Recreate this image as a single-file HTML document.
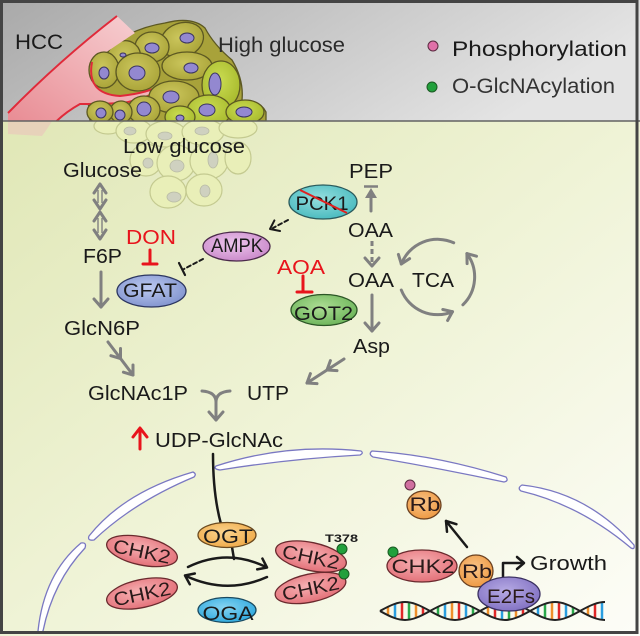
<!DOCTYPE html>
<html><head><meta charset="utf-8"><style>html,body{margin:0;padding:0;background:#fff}svg{display:block}svg text{font-family:"Liberation Sans",Arial,sans-serif}</style></head><body>
<svg width="640" height="636" viewBox="0 0 640 636" xmlns="http://www.w3.org/2000/svg" style="font-family:'Liberation Sans',Arial,sans-serif">
<defs>
<linearGradient id="gTop" x1="0" y1="0" x2="1" y2="0.3"><stop offset="0" stop-color="#a9a9a9"/><stop offset="1" stop-color="#e4e4e4"/></linearGradient>
<linearGradient id="gBot" x1="0" y1="0" x2="1" y2="1"><stop offset="0" stop-color="#e0e7b6"/><stop offset="0.5" stop-color="#eff3d6"/><stop offset="1" stop-color="#fdfdf8"/></linearGradient>
<linearGradient id="gVes" x1="1" y1="0" x2="0" y2="1"><stop offset="0" stop-color="#f8d6d8"/><stop offset="1" stop-color="#e88a92"/></linearGradient>
<radialGradient id="gCell" cx="45%" cy="40%" r="60%"><stop offset="0" stop-color="#cbc65c"/><stop offset="1" stop-color="#aba53a"/></radialGradient>
<radialGradient id="gCellG" cx="45%" cy="40%" r="60%"><stop offset="0" stop-color="#cadc52"/><stop offset="1" stop-color="#a9bb2e"/></radialGradient>
<radialGradient id="gPCK" cx="45%" cy="40%" r="60%"><stop offset="0" stop-color="#94dede"/><stop offset="1" stop-color="#4cbcc0"/></radialGradient>
<radialGradient id="gAMPK" cx="45%" cy="40%" r="60%"><stop offset="0" stop-color="#ecc6ec"/><stop offset="1" stop-color="#cc8ccc"/></radialGradient>
<radialGradient id="gGFAT" cx="45%" cy="40%" r="60%"><stop offset="0" stop-color="#bccaf0"/><stop offset="1" stop-color="#8496d0"/></radialGradient>
<radialGradient id="gGOT" cx="45%" cy="40%" r="60%"><stop offset="0" stop-color="#addd94"/><stop offset="1" stop-color="#6fb65c"/></radialGradient>
<radialGradient id="gOGT" cx="45%" cy="40%" r="60%"><stop offset="0" stop-color="#fbd48e"/><stop offset="1" stop-color="#f0ac4c"/></radialGradient>
<radialGradient id="gOGA" cx="45%" cy="40%" r="60%"><stop offset="0" stop-color="#86d4f2"/><stop offset="1" stop-color="#32aade"/></radialGradient>
<radialGradient id="gCHK" cx="45%" cy="40%" r="60%"><stop offset="0" stop-color="#f6b0b2"/><stop offset="1" stop-color="#e4727a"/></radialGradient>
<radialGradient id="gRb" cx="45%" cy="40%" r="60%"><stop offset="0" stop-color="#f9c488"/><stop offset="1" stop-color="#ee9a44"/></radialGradient>
<radialGradient id="gE2F" cx="45%" cy="40%" r="60%"><stop offset="0" stop-color="#b6aae4"/><stop offset="1" stop-color="#8474c4"/></radialGradient>
<clipPath id="cTop"><rect x="0" y="0" width="640" height="121"/></clipPath>
<clipPath id="cDNA"><rect x="378" y="590" width="227" height="40"/></clipPath>
</defs>

<rect x="0" y="0" width="640" height="121" fill="url(#gTop)"/>
<rect x="0" y="121" width="640" height="515" fill="url(#gBot)"/>

<path d="M8,121 L52,121 Q48,128 42,136 L8,134 Z" fill="#f0b8bc" opacity="0.45"/>

<g fill="#e9efb8" stroke="#c4ca90" stroke-width="1.2">
<ellipse cx="108" cy="126" rx="14" ry="8"/>
<ellipse cx="134" cy="131" rx="18" ry="12"/>
<ellipse cx="166" cy="134" rx="20" ry="13"/>
<ellipse cx="203" cy="132" rx="21" ry="13"/>
<ellipse cx="238" cy="128" rx="19" ry="10"/>
<ellipse cx="146" cy="160" rx="16" ry="16"/>
<ellipse cx="176" cy="163" rx="19" ry="18"/>
<ellipse cx="209" cy="161" rx="19" ry="18"/>
<ellipse cx="238" cy="158" rx="13" ry="16"/>
<ellipse cx="168" cy="192" rx="18" ry="16"/>
<ellipse cx="204" cy="190" rx="18" ry="16"/>
</g>
<g fill="#cfd1c0" stroke="#b8bba4" stroke-width="0.8">
<ellipse cx="130" cy="131" rx="6" ry="4"/>
<ellipse cx="165" cy="136" rx="7" ry="4"/>
<ellipse cx="202" cy="131" rx="7" ry="4"/>
<ellipse cx="177" cy="166" rx="7" ry="6"/>
<ellipse cx="213" cy="160" rx="5" ry="8"/>
<ellipse cx="174" cy="197" rx="7" ry="5"/>
<ellipse cx="205" cy="191" rx="5" ry="6"/>
<ellipse cx="148" cy="163" rx="5" ry="5"/>
</g>

<g clip-path="url(#cTop)">
<path d="M90,121 L88,100 Q86,80 92,62 Q105,45 125,36 Q145,26 165,23 Q192,16 205,28 Q214,45 232,60 Q244,80 242,100 Q260,100 266,112 L266,121 Z" fill="#a8a23a" stroke="#5c5822" stroke-width="1.3"/>
<g stroke="#5c5822" stroke-width="1.3">
<ellipse cx="182" cy="40" rx="22" ry="17" fill="url(#gCell)" transform="rotate(-20 182 40)"/>
<ellipse cx="152" cy="47" rx="17" ry="15" fill="url(#gCell)"/>
<ellipse cx="187" cy="66" rx="25" ry="14" fill="url(#gCell)"/>
<ellipse cx="123" cy="60" rx="17" ry="20" fill="url(#gCell)" transform="rotate(30 123 60)"/>
</g>
<path d="M117,16 L135,33 Q112,48 92,62 Q86,94 120,96 Q150,93 168,82 Q150,97 123,103 Q96,104 80,104 Q62,114 50,128 L8,128 L8,113 Q60,60 117,16 Z" fill="url(#gVes)"/>
<path d="M117,16 Q60,60 8,113" fill="none" stroke="#e02a3a" stroke-width="2"/>
<path d="M168,86 Q150,98 123,103 Q96,104 80,104 Q62,114 50,128" fill="none" stroke="#e02a3a" stroke-width="2"/>
<g stroke="#5c5822" stroke-width="1.3">
<ellipse cx="104" cy="70" rx="15" ry="18" fill="url(#gCell)"/>
<ellipse cx="138" cy="72" rx="22" ry="19" fill="url(#gCell)"/>
</g>
<path d="M92,62 Q86,94 120,96 Q150,93 168,82" fill="none" stroke="#e02a3a" stroke-width="2"/>
<g stroke="#5c5822" stroke-width="1.3">
<ellipse cx="221" cy="85" rx="19" ry="24" fill="url(#gCellG)"/>
<ellipse cx="174" cy="97" rx="25" ry="16" fill="url(#gCell)"/>
<ellipse cx="144" cy="110" rx="16" ry="14" fill="url(#gCell)"/>
<ellipse cx="121" cy="112" rx="11" ry="11" fill="url(#gCell)"/>
<ellipse cx="100" cy="112" rx="13" ry="11" fill="url(#gCell)"/>
<ellipse cx="209" cy="111" rx="22" ry="16" fill="url(#gCellG)"/>
<ellipse cx="180" cy="117" rx="15" ry="11" fill="url(#gCellG)"/>
<ellipse cx="245" cy="112" rx="19" ry="12" fill="url(#gCellG)"/>
</g>
<g fill="#9388d0" stroke="#3a3460" stroke-width="1">
<ellipse cx="187" cy="38" rx="7" ry="5"/>
<ellipse cx="152" cy="48" rx="7" ry="5"/>
<ellipse cx="191" cy="68" rx="7" ry="5"/>
<ellipse cx="123" cy="55" rx="3" ry="2"/>
<ellipse cx="104" cy="73" rx="5" ry="6"/>
<ellipse cx="137" cy="73" rx="8" ry="7"/>
<ellipse cx="215" cy="84" rx="6" ry="11"/>
<ellipse cx="171" cy="97" rx="8" ry="6"/>
<ellipse cx="144" cy="109" rx="7" ry="7"/>
<ellipse cx="120" cy="115" rx="5" ry="5"/>
<ellipse cx="101" cy="113" rx="5" ry="5"/>
<ellipse cx="207" cy="110" rx="8" ry="6"/>
<ellipse cx="180" cy="118" rx="4" ry="3"/>
<ellipse cx="244" cy="112" rx="8" ry="5"/>
</g>
</g>
<line x1="0" y1="121" x2="640" y2="121" stroke="#626262" stroke-width="1.5"/>

<g fill="#1a1a1a" font-size="21">
<text x="15" y="49" textLength="48" lengthAdjust="spacingAndGlyphs">HCC</text>
<text x="218" y="52" textLength="127" lengthAdjust="spacingAndGlyphs" fill="#2a2a2a">High glucose</text>
<text x="452" y="56" textLength="175" lengthAdjust="spacingAndGlyphs">Phosphorylation</text>
<text x="452" y="93" textLength="163" lengthAdjust="spacingAndGlyphs" fill="#333">O-GlcNAcylation</text>
</g>
<circle cx="433" cy="46" r="5" fill="#e070a8" stroke="#5a2a40" stroke-width="1"/>
<circle cx="432" cy="87" r="5" fill="#22a03c" stroke="#1a5a22" stroke-width="1"/>

<g fill="#1a1a1a" font-size="20">
<text x="123" y="153" textLength="122" lengthAdjust="spacingAndGlyphs">Low glucose</text>
<text x="63" y="177" textLength="79" lengthAdjust="spacingAndGlyphs">Glucose</text>
<text x="349" y="178" textLength="44" lengthAdjust="spacingAndGlyphs">PEP</text>
<text x="348" y="237" textLength="45" lengthAdjust="spacingAndGlyphs">OAA</text>
<text x="83" y="263" textLength="39" lengthAdjust="spacingAndGlyphs">F6P</text>
<text x="348" y="287" textLength="46" lengthAdjust="spacingAndGlyphs">OAA</text>
<text x="412" y="287" textLength="42" lengthAdjust="spacingAndGlyphs">TCA</text>
<text x="64" y="335" textLength="76" lengthAdjust="spacingAndGlyphs">GlcN6P</text>
<text x="353" y="353" textLength="37" lengthAdjust="spacingAndGlyphs">Asp</text>
<text x="88" y="400" textLength="100" lengthAdjust="spacingAndGlyphs">GlcNAc1P</text>
<text x="247" y="400" textLength="42" lengthAdjust="spacingAndGlyphs">UTP</text>
<text x="155" y="447" textLength="128" lengthAdjust="spacingAndGlyphs">UDP-GlcNAc</text>
<text x="530" y="570" textLength="77" lengthAdjust="spacingAndGlyphs">Growth</text>
</g>
<g fill="#e8141c" font-size="20">
<text x="126" y="244" textLength="50" lengthAdjust="spacingAndGlyphs">DON</text>
<text x="277" y="274" textLength="48" lengthAdjust="spacingAndGlyphs">AOA</text>
</g>

<g stroke="#808080" stroke-width="3" fill="none" stroke-linecap="round" stroke-linejoin="round">
<polyline points="94,193 100,184 106,193"/><polyline points="94,200 100,209 106,200"/>
<polyline points="94,221 100,212 106,221"/><polyline points="94,230 100,239 106,230"/>
<line x1="101" y1="272" x2="101" y2="307"/><polyline points="94,299 101,307 108,299"/>
<line x1="108" y1="342" x2="133" y2="375"/>
<polyline points="110.9,355.7 120.5,358.5 120.5,348.5"/>
<polyline points="123.4,372.2 133,375 133,365"/>
<line x1="344" y1="359" x2="307" y2="383"/>
<polyline points="337,370.6 327,370 330.4,360.6"/>
<polyline points="317,383.6 307,383 310.4,373.6"/>
<path d="M202,391 Q216,392 216,402 M230,391 Q216,392 216,402 L216,420"/>
<polyline points="209,412 216,420 223,412"/>
<line x1="371" y1="197" x2="371" y2="211"/>
<line x1="372" y1="241" x2="372" y2="263" stroke-dasharray="5,3" stroke-linecap="butt"/>
<polyline points="365,258 372,266 379,258"/>
<line x1="372" y1="295" x2="372" y2="331"/><polyline points="365,323 372,331 379,323"/>
<path d="M453.7,242.8 A39,39 0 0 0 401.3,264"/>
<polyline points="409.6,258.6 401.3,264 398.4,254.4"/>
<path d="M462.9,304.8 A39,39 0 0 0 466.9,253.6"/>
<polyline points="476.5,256.2 466.9,253.6 467.1,263.6"/>
<path d="M401.3,290 A39,39 0 0 0 452.5,311.7"/>
<polyline points="447.6,320.5 452.5,311.7 442.8,309.5"/>
</g>
<g stroke="#808080" stroke-width="1.4">
<line x1="98" y1="190" x2="98" y2="203"/><line x1="102" y1="190" x2="102" y2="203"/>
<line x1="98" y1="218" x2="98" y2="233"/><line x1="102" y1="218" x2="102" y2="233"/>
</g>
<polygon points="371,188 365,198 377,198" fill="#808080"/>
<line x1="364" y1="186.5" x2="378" y2="186.5" stroke="#808080" stroke-width="2.5"/>

<g stroke="#e8141c" stroke-width="3" fill="none" stroke-linecap="round">
<line x1="150" y1="250" x2="150" y2="264"/><line x1="143" y1="264" x2="157" y2="264"/>
<line x1="303" y1="276" x2="303" y2="292"/><line x1="297" y1="292" x2="312" y2="292"/>
<line x1="140" y1="449" x2="140" y2="429"/><polyline points="133,437 140,428 147,437" stroke-linejoin="round"/>
</g>

<g stroke="#1a1a1a" stroke-width="2" fill="none" stroke-linecap="round">
<line x1="288" y1="220" x2="273" y2="228" stroke-dasharray="4,3"/>
<polyline points="274.4,220.4 270,229 280,231" stroke-linejoin="round"/>
<line x1="203" y1="259" x2="184" y2="269" stroke-dasharray="4,3"/>
<line x1="179" y1="263" x2="185" y2="275" stroke-width="2.2"/>
</g>

<g stroke-width="1.3">
<ellipse cx="323" cy="202" rx="34" ry="17" fill="url(#gPCK)" stroke="#2a5a5c"/>
<ellipse cx="236.5" cy="246.5" rx="33.5" ry="14.5" fill="url(#gAMPK)" stroke="#4a2a4a"/>
<ellipse cx="151.5" cy="291" rx="34.5" ry="16" fill="url(#gGFAT)" stroke="#2c3660"/>
<ellipse cx="324" cy="310" rx="33" ry="15.5" fill="url(#gGOT)" stroke="#2c5626"/>
</g>
<g fill="#1a1a1a" font-size="19" text-anchor="middle">
<text x="322" y="210" textLength="53" lengthAdjust="spacingAndGlyphs">PCK1</text>
<text x="237" y="252" textLength="52" lengthAdjust="spacingAndGlyphs">AMPK</text>
<text x="150" y="297" textLength="54" lengthAdjust="spacingAndGlyphs">GFAT</text>
<text x="323.5" y="320" textLength="59" lengthAdjust="spacingAndGlyphs">GOT2</text>
</g>
<line x1="300" y1="190" x2="347" y2="213" stroke="#e02020" stroke-width="2"/>

<g fill="#ffffff" stroke="#7a78c2" stroke-width="1.3" stroke-linejoin="round">
<path d="M216,466 Q286,443 361,451 Q364,453 360,455 Q288,459 220,470 Q213,469 216,466 Z"/>
<path d="M372,451 Q436,455 506,477 Q509,481 504,482 Q438,468 373,457 Q368,454 372,451 Z"/>
<path d="M522,485 Q587,492 634,545 Q635,550 631,548 Q580,505 521,491 Q517,488 522,485 Z"/>
<path d="M89,536 Q124,492 193,472 Q197,474 194,477 Q134,502 94,540 Q87,541 89,536 Z"/>
<path d="M81,543 Q44,574 38,631 Q40,634 43,631 Q53,582 85,548 Q87,542 81,543 Z"/>
</g>

<g stroke="#1a1a1a" stroke-width="2.5" fill="none" stroke-linecap="round" stroke-linejoin="round">
<path d="M213,454 Q213,495 221,524"/>
<line x1="232" y1="547" x2="234" y2="559"/>
<path d="M188,567 Q227,548 266,567"/>
<polyline points="257.2,569.4 267,567.5 262.4,558.6"/>
<path d="M267,577 Q227,595 186,576"/>
<polyline points="194.8,573.5 185,575.5 189.8,584.3"/>
</g>
<ellipse cx="227" cy="535" rx="29" ry="12.5" fill="url(#gOGT)" stroke="#6a4a20" stroke-width="1.3"/>
<ellipse cx="227" cy="610" rx="29" ry="12.5" fill="url(#gOGA)" stroke="#1a4a60" stroke-width="1.3"/>
<g fill="#1a1a1a" font-size="19" text-anchor="middle">
<text x="228" y="543" textLength="50" lengthAdjust="spacingAndGlyphs">OGT</text>
<text x="228" y="620" textLength="51" lengthAdjust="spacingAndGlyphs">OGA</text>
</g>

<g stroke="#6a2a2e" stroke-width="1.3" fill="url(#gCHK)">
<ellipse cx="142" cy="551" rx="36" ry="14" transform="rotate(12 142 551)"/>
<ellipse cx="142" cy="593.5" rx="36" ry="14" transform="rotate(-12 142 593.5)"/>
<ellipse cx="311" cy="556.5" rx="36" ry="14" transform="rotate(12 311 556.5)"/>
<ellipse cx="310.5" cy="588" rx="36" ry="14" transform="rotate(-12 310.5 588)"/>
</g>
<g fill="#2a1a1a" font-size="19" text-anchor="middle">
<text x="142" y="558" textLength="58" lengthAdjust="spacingAndGlyphs" transform="rotate(12 142 551)">CHK2</text>
<text x="142" y="600.5" textLength="58" lengthAdjust="spacingAndGlyphs" transform="rotate(-12 142 593.5)">CHK2</text>
<text x="311" y="563.5" textLength="58" lengthAdjust="spacingAndGlyphs" transform="rotate(12 311 556.5)">CHK2</text>
<text x="310.5" y="595" textLength="58" lengthAdjust="spacingAndGlyphs" transform="rotate(-12 310.5 588)">CHK2</text>
</g>
<circle cx="342" cy="549" r="5" fill="#22a03c" stroke="#1a5a22" stroke-width="1"/>
<circle cx="344" cy="574" r="5" fill="#22a03c" stroke="#1a5a22" stroke-width="1"/>
<text x="325" y="542" font-size="11" font-weight="bold" fill="#1a1a1a" textLength="33" lengthAdjust="spacingAndGlyphs">T378</text>

<g stroke="#1a1a1a" stroke-width="2.5" fill="none" stroke-linecap="round" stroke-linejoin="round">
<line x1="467" y1="547" x2="446" y2="521"/>
<polyline points="456.4,524.2 446,521 447,531.8"/>
<path d="M503,577 L503,563 L523,563"/>
<polyline points="517,557 524,563 517,569"/>
</g>
<ellipse cx="424" cy="505" rx="17" ry="14" fill="url(#gRb)" stroke="#6a4020" stroke-width="1.3"/>
<circle cx="410" cy="485" r="5" fill="#d070a0" stroke="#5a2a40" stroke-width="1"/>
<ellipse cx="422" cy="566" rx="35" ry="16" fill="url(#gCHK)" stroke="#6a2a2e" stroke-width="1.3"/>
<circle cx="393" cy="552" r="5" fill="#22a03c" stroke="#1a5a22" stroke-width="1"/>

<g clip-path="url(#cDNA)">
<g stroke-width="2.5">
<line x1="388" y1="606.7" x2="388" y2="615.3" stroke="#f0902a"/>
<line x1="395" y1="603.7" x2="395" y2="618.3" stroke="#2a9ee0"/>
<line x1="402" y1="602.2" x2="402" y2="619.8" stroke="#e02828"/>
<line x1="409" y1="602.3" x2="409" y2="619.7" stroke="#2aa84a"/>
<line x1="416" y1="604.1" x2="416" y2="617.9" stroke="#f0902a"/>
<line x1="423" y1="607.2" x2="423" y2="614.8" stroke="#e02828"/>
<line x1="438" y1="606.7" x2="438" y2="615.3" stroke="#2aa84a"/>
<line x1="445" y1="603.7" x2="445" y2="618.3" stroke="#2a9ee0"/>
<line x1="452" y1="602.2" x2="452" y2="619.8" stroke="#f0902a"/>
<line x1="459" y1="602.3" x2="459" y2="619.7" stroke="#e02828"/>
<line x1="466" y1="604.1" x2="466" y2="617.9" stroke="#2a9ee0"/>
<line x1="473" y1="607.2" x2="473" y2="614.8" stroke="#2aa84a"/>
<line x1="488" y1="606.7" x2="488" y2="615.3" stroke="#f0902a"/>
<line x1="495" y1="603.7" x2="495" y2="618.3" stroke="#e02828"/>
<line x1="502" y1="602.2" x2="502" y2="619.8" stroke="#2a9ee0"/>
<line x1="509" y1="602.3" x2="509" y2="619.7" stroke="#2aa84a"/>
<line x1="516" y1="604.1" x2="516" y2="617.9" stroke="#f0902a"/>
<line x1="523" y1="607.2" x2="523" y2="614.8" stroke="#e02828"/>
<line x1="538" y1="606.7" x2="538" y2="615.3" stroke="#2a9ee0"/>
<line x1="545" y1="603.7" x2="545" y2="618.3" stroke="#2aa84a"/>
<line x1="552" y1="602.2" x2="552" y2="619.8" stroke="#f0902a"/>
<line x1="559" y1="602.3" x2="559" y2="619.7" stroke="#e02828"/>
<line x1="566" y1="604.1" x2="566" y2="617.9" stroke="#2a9ee0"/>
<line x1="573" y1="607.2" x2="573" y2="614.8" stroke="#2aa84a"/>
<line x1="588" y1="606.7" x2="588" y2="615.3" stroke="#f0902a"/>
<line x1="595" y1="603.7" x2="595" y2="618.3" stroke="#e02828"/>
<line x1="602" y1="602.2" x2="602" y2="619.8" stroke="#2a9ee0"/>
</g>
<g stroke="#222" stroke-width="2" fill="none">
<path d="M380,611 C401.2,599 408.8,599 430,611 C451.2,623 458.8,623 480,611 C501.2,599 508.8,599 530,611 C551.2,623 558.8,623 580,611 C601.2,599 608.8,599 630,611"/>
<path d="M380,611 C401.2,623 408.8,623 430,611 C451.2,599 458.8,599 480,611 C501.2,623 508.8,623 530,611 C551.2,599 558.8,599 580,611 C601.2,623 608.8,623 630,611"/>
</g>
</g>

<ellipse cx="476" cy="571" rx="17" ry="16" fill="url(#gRb)" stroke="#6a4020" stroke-width="1.3"/>
<ellipse cx="509" cy="594" rx="31" ry="17" fill="url(#gE2F)" stroke="#3a3060" stroke-width="1.3"/>
<g fill="#2a1a1a" font-size="19" text-anchor="middle">
<text x="425" y="511" textLength="31" lengthAdjust="spacingAndGlyphs">Rb</text>
<text x="423" y="573" textLength="63" lengthAdjust="spacingAndGlyphs">CHK2</text>
<text x="477" y="578" textLength="30" lengthAdjust="spacingAndGlyphs">Rb</text>
<text x="511" y="603" textLength="48" lengthAdjust="spacingAndGlyphs">E2Fs</text>
</g>

<rect x="1.5" y="1.5" width="635.5" height="631" fill="none" stroke="#444" stroke-width="3"/>
</svg>
</body></html>
